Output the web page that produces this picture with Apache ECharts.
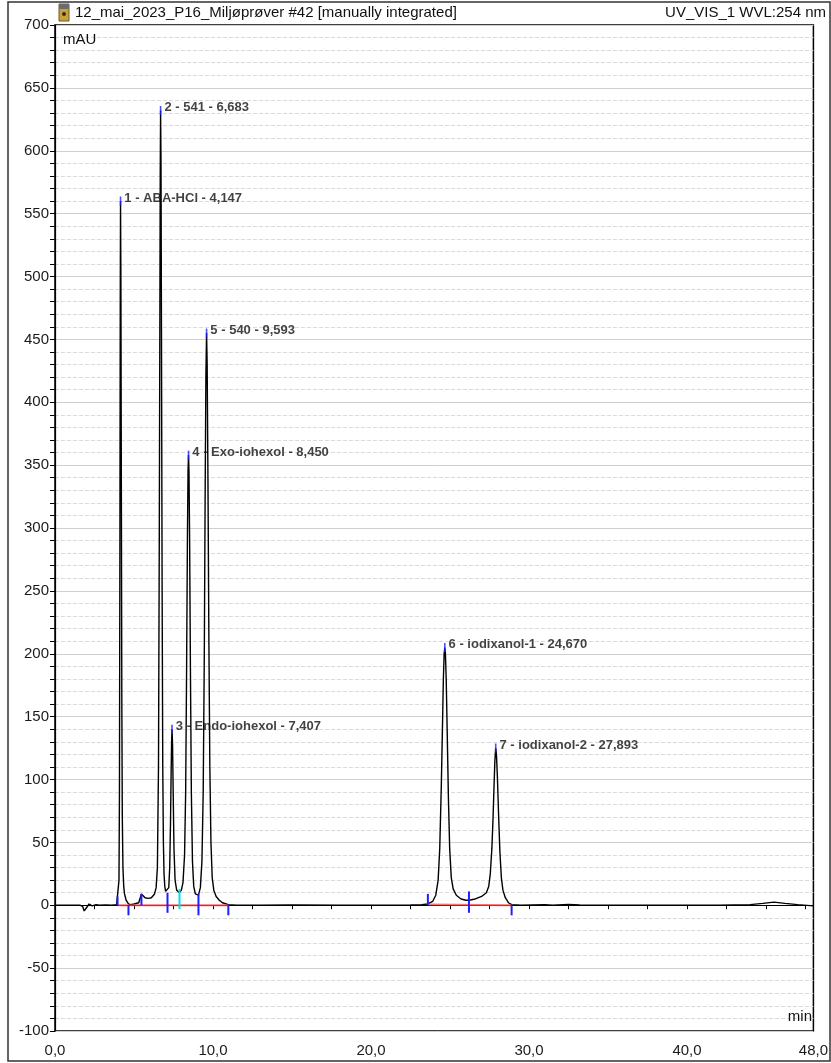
<!DOCTYPE html>
<html><head><meta charset="utf-8">
<script src="https://cdn.jsdelivr.net/npm/echarts@6/dist/echarts.min.js"></script>
<style>html,body{margin:0;padding:0;background:#fff}#c{width:831px;height:1063px}</style>
</head><body><div id="c"></div>
<script>
// chromatogram trace (min, mAU)
const times = [0,1.0,1.6,1.75,1.85,1.95,2.05,2.15,2.25,2.35,2.45,2.6,2.8,3.2,3.6,3.9,
4.0,4.05,4.08,4.11,4.13,4.147,4.17,4.20,4.23,4.26,4.30,4.35,4.40,4.50,4.65,4.8,5.0,5.3,5.42,5.47,5.55,5.7,5.9,6.1,6.3,6.4,6.48,
6.55,6.60,6.64,6.66,6.683,6.71,6.74,6.78,6.82,6.86,6.90,6.95,7.00,7.12,
7.20,7.26,7.31,7.35,7.38,7.407,7.44,7.48,7.53,7.60,7.70,7.88,
8.00,8.10,8.20,8.27,8.33,8.38,8.42,8.45,8.48,8.52,8.57,8.63,8.70,8.78,8.88,9.08,
9.20,9.30,9.38,9.45,9.50,9.55,9.593,9.63,9.68,9.74,9.80,9.87,9.95,10.05,10.20,10.40,10.60,10.97,
11.5,13,15,18,21,22.5,23.2,23.6,23.9,
24.10,24.25,24.35,24.45,24.52,24.58,24.63,24.67,24.71,24.76,24.82,24.90,24.98,25.08,25.20,25.40,25.70,26.00,26.20,26.60,27.00,27.30,
27.45,27.55,27.65,27.72,27.78,27.84,27.893,27.94,28.00,28.08,28.16,28.25,28.35,28.50,28.70,28.90,
29.5,31,31.5,32.5,33.2,34,38,42,44,44.8,45.5,46.2,47,48];
const signal = [0,0,0,-1,-4.5,-4,-1,1,0.5,-0.5,1,0.5,0,0.3,0,0.5,
2,20,90,300,480,560,500,330,160,70,30,15,9,4,1,0.5,1,2,3,9,8,6,5.5,6,9,14,30,
110,290,480,580,632,590,450,250,110,50,25,15,11,10,
14,30,65,105,130,140,128,90,45,20,12,10,
12,18,40,90,190,290,345,358,345,290,190,90,35,15,9,8,
14,35,90,200,320,420,455,430,340,210,110,50,22,12,7,4,2,0.5,
0,0,0.2,0,0,0.3,0.5,1,3,
8,20,45,95,140,180,200,205,200,180,140,85,45,22,13,8,5,4,4,5,7,10,
15,25,45,68,92,115,125,120,102,70,42,22,12,6,2,0.5,
0,0.5,0,0.7,0.3,0,0,0,0.5,1.5,2.5,1.5,0.5,-0.5];

// peak annotations
const peakTimes = [4.147, 6.683, 7.407, 8.450, 9.593, 24.670, 27.893];
const peakHeights = [560, 632, 140, 358, 455, 205, 125];
const peakNames = ['1 - ABA-HCl - 4,147', '2 - 541 - 6,683', '3 - Endo-iohexol - 7,407',
  '4 - Exo-iohexol - 8,450', '5 - 540 - 9,593', '6 - iodixanol-1 - 24,670', '7 - iodixanol-2 - 27,893'];

// integration delimiters: [time, low mAU, high mAU]
const delimiters = [[3.96,0,7],[4.65,-8,0],[5.47,0,9],[7.12,-6,10],[9.08,-8,9],[10.97,-8,0],
  [23.6,0,9],[26.2,-6,11],[28.9,-8,0]];
const cyanDelims = [[7.88,-3,13]];
// integration baselines
const baselineA = [[3.96,0],[10.97,0]];
const baselineB = [[23.6,0.5],[28.9,0]];

const yTickMin = -100, yTickMax = 700, yStep = 50;
const xTickMin = 0, xTickMax = 48, xStep = 2.5;

const title = '12_mai_2023_P16_Miljøprøver #42 [manually integrated]';
const channel = 'UV_VIS_1 WVL:254 nm';

const trace = times.map((t, i) => [t, signal[i]]);
const apex = peakTimes.map((t, i) => [t, peakHeights[i], peakNames[i]]);

const FONT = '"Liberation Sans", Arial, sans-serif';
const chart = echarts.init(document.getElementById('c'), null, {renderer: 'canvas'});

function delimSeries(data, color) {
  return {
    type: 'custom', data: data, encode: {x: 0, y: [1, 2]}, z: 5, silent: true,
    renderItem: function (params, api) {
      const a = api.coord([api.value(0), api.value(1)]);
      const b = api.coord([api.value(0), api.value(2)]);
      return {type: 'line', shape: {x1: a[0], y1: a[1], x2: b[0], y2: b[1]},
        style: {stroke: color, lineWidth: 2}};
    }
  };
}

chart.setOption({
  animation: false,
  backgroundColor: '#fff',
  grid: {left: 55, right: 16, top: 25, bottom: 32, show: true, borderColor: '#000', borderWidth: 1.5, backgroundColor: 'transparent'},
  xAxis: {
    type: 'value', min: xTickMin, max: xTickMax, interval: xStep, offset: 5,
    axisLine: {show: true, lineStyle: {color: '#000', width: 1.2}},
    axisTick: {show: true, length: 4, lineStyle: {color: '#000'}},
    axisLabel: {fontFamily: FONT, fontSize: 15, color: '#1a1a1a', margin: 7, showMaxLabel: true, showMinLabel: true,
      formatter: v => (Math.abs(v % 10) < 1e-9 || v === 48) ? v.toFixed(1).replace('.', ',') : ''},
    splitLine: {show: false}
  },
  yAxis: {
    type: 'value', min: yTickMin, max: yTickMax, interval: yStep, offset: 3,
    axisLine: {show: true, lineStyle: {color: '#000', width: 1.2}},
    axisTick: {show: true, length: 5, lineStyle: {color: '#000'}},
    minorTick: {show: true, splitNumber: 5, length: 5, lineStyle: {color: '#000'}},
    axisLabel: {fontFamily: FONT, fontSize: 15, color: '#1a1a1a', margin: 3},
    splitLine: {show: true, lineStyle: {color: '#cfcfcf', width: 1}},
    minorSplitLine: {show: true, lineStyle: {color: '#dadada', width: 1, type: [4, 2]}}
  },
  series: [
    {type: 'line', data: trace, showSymbol: false, symbol: 'none', z: 3,
      lineStyle: {color: '#000', width: 1.4}},
    {type: 'line', data: baselineA, symbol: 'none', z: 4, lineStyle: {color: '#ff4040', width: 2, opacity: 0.75}},
    {type: 'line', data: baselineB, symbol: 'none', z: 4, lineStyle: {color: '#ff4040', width: 2, opacity: 0.75}},
    delimSeries(delimiters, '#1e1eff'),
    delimSeries(cyanDelims, '#00e0f0'),
    {type: 'scatter', data: apex, symbol: 'rect', symbolSize: [1.6, 9], z: 6,
      itemStyle: {color: '#1e1eff'},
      label: {show: true, position: 'right', distance: 3, offset: [0, -3],
        formatter: p => p.data[2], fontFamily: FONT, fontSize: 13, fontWeight: 'bold', color: '#111'}}
  ],
  graphic: [
    {type: 'rect', shape: {x: 8, y: 2, width: 822, height: 1059}, style: {fill: 'none', stroke: '#333', lineWidth: 1.5}, z: 0},
    {type: 'rect', shape: {x: 59, y: 4, width: 10, height: 17}, style: {fill: '#c9a23a', stroke: '#6b5a2a', lineWidth: 1}, z: 10},
    {type: 'rect', shape: {x: 59, y: 4, width: 10, height: 5}, style: {fill: '#6c6c6c'}, z: 11},
    {type: 'circle', shape: {cx: 64, cy: 14, r: 2}, style: {fill: '#3a2a10'}, z: 11},
    {type: 'text', x: 75, y: 13, style: {text: title, fontFamily: FONT, fontSize: 15, fill: '#111', textVerticalAlign: 'middle'}, z: 10},
    {type: 'text', x: 826, y: 13, style: {text: channel, fontFamily: FONT, fontSize: 15, fill: '#111', textAlign: 'right', textVerticalAlign: 'middle'}, z: 10},
    {type: 'text', x: 63, y: 40, style: {text: 'mAU', fontFamily: FONT, fontSize: 15, fill: '#111', textVerticalAlign: 'middle'}, z: 10},
    {type: 'text', x: 812, y: 1017, style: {text: 'min', fontFamily: FONT, fontSize: 15, fill: '#111', textAlign: 'right', textVerticalAlign: 'middle'}, z: 10}
  ]
});
</script>
</body></html>
